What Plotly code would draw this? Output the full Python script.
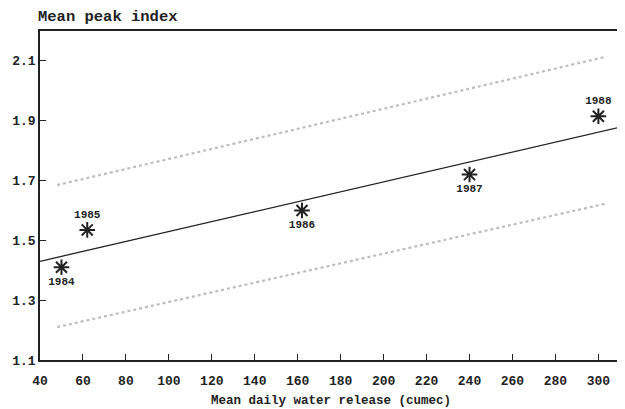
import plotly.graph_objects as go

# Observed data (mean daily water release vs mean peak index)
years = ["1984", "1985", "1986", "1987", "1988"]
release = [50, 62, 162, 240, 300]
peak_index = [1.41, 1.535, 1.60, 1.72, 1.915]
label_pos = ["bottom center", "top center", "bottom center", "bottom center", "top center"]

fit_x = [40, 311]
fit_y = [1.43, 1.88]

# Confidence band lines
band_x = [48, 303]
upper_y = [1.685, 2.113]
lower_y = [1.21, 1.622]

x_ticks = list(range(40, 301, 20))
y_ticks = [1.1, 1.3, 1.5, 1.7, 1.9, 2.1]

FONT = "Liberation Mono"
INK = "#222222"

fig = go.Figure()

fig.add_trace(go.Scatter(x=band_x, y=upper_y, mode="lines",
                         line=dict(color="#bdbdbd", width=2.2, dash="dot"),
                         hoverinfo="skip", showlegend=False))
fig.add_trace(go.Scatter(x=band_x, y=lower_y, mode="lines",
                         line=dict(color="#bdbdbd", width=2.2, dash="dot"),
                         hoverinfo="skip", showlegend=False))
fig.add_trace(go.Scatter(x=fit_x, y=fit_y, mode="lines",
                         line=dict(color=INK, width=1.3),
                         showlegend=False))
fig.add_trace(go.Scatter(x=release, y=peak_index, mode="markers+text",
                         text=years, textposition=label_pos, cliponaxis=False,
                         textfont=dict(family=FONT, size=11, color=INK, weight="bold"),
                         marker=dict(symbol="asterisk-open", size=13, color=INK,
                                     line=dict(color=INK, width=2)),
                         showlegend=False))

axis_common = dict(
    showgrid=False, zeroline=False, automargin=False,
    showline=True, linecolor=INK, linewidth=1.5, mirror=True,
    ticks="inside", ticklen=6, tickcolor=INK, tickwidth=1,
    tickfont=dict(family=FONT, size=13, color=INK, weight="bold"),
)

fig.update_xaxes(range=[40, 311], tickvals=x_ticks,
                 ticktext=[str(v) for v in x_ticks],
                 ticklabelstandoff=8,
                 title=dict(text="Mean daily water release (cumec)",
                            font=dict(family=FONT, size=12.5, color=INK, weight="bold"),
                            standoff=7),
                 **axis_common)
fig.update_yaxes(range=[1.1, 2.2], tickvals=y_ticks,
                 ticktext=[f"{v:.1f}" for v in y_ticks],
                 **axis_common)

fig.add_annotation(text="Mean peak index", xref="paper", yref="paper",
                   x=0, y=1, xanchor="left", yanchor="bottom", yshift=3, xshift=-4,
                   showarrow=False,
                   font=dict(family=FONT, size=15.5, color=INK, weight="bold"))

# The page body has an 8px default margin, so the figure is sized to fit
fig.update_layout(width=617, height=401,
                  margin=dict(l=32, r=3, t=23, b=49),
                  plot_bgcolor="white", paper_bgcolor="white")

fig.write_html("out.html")
